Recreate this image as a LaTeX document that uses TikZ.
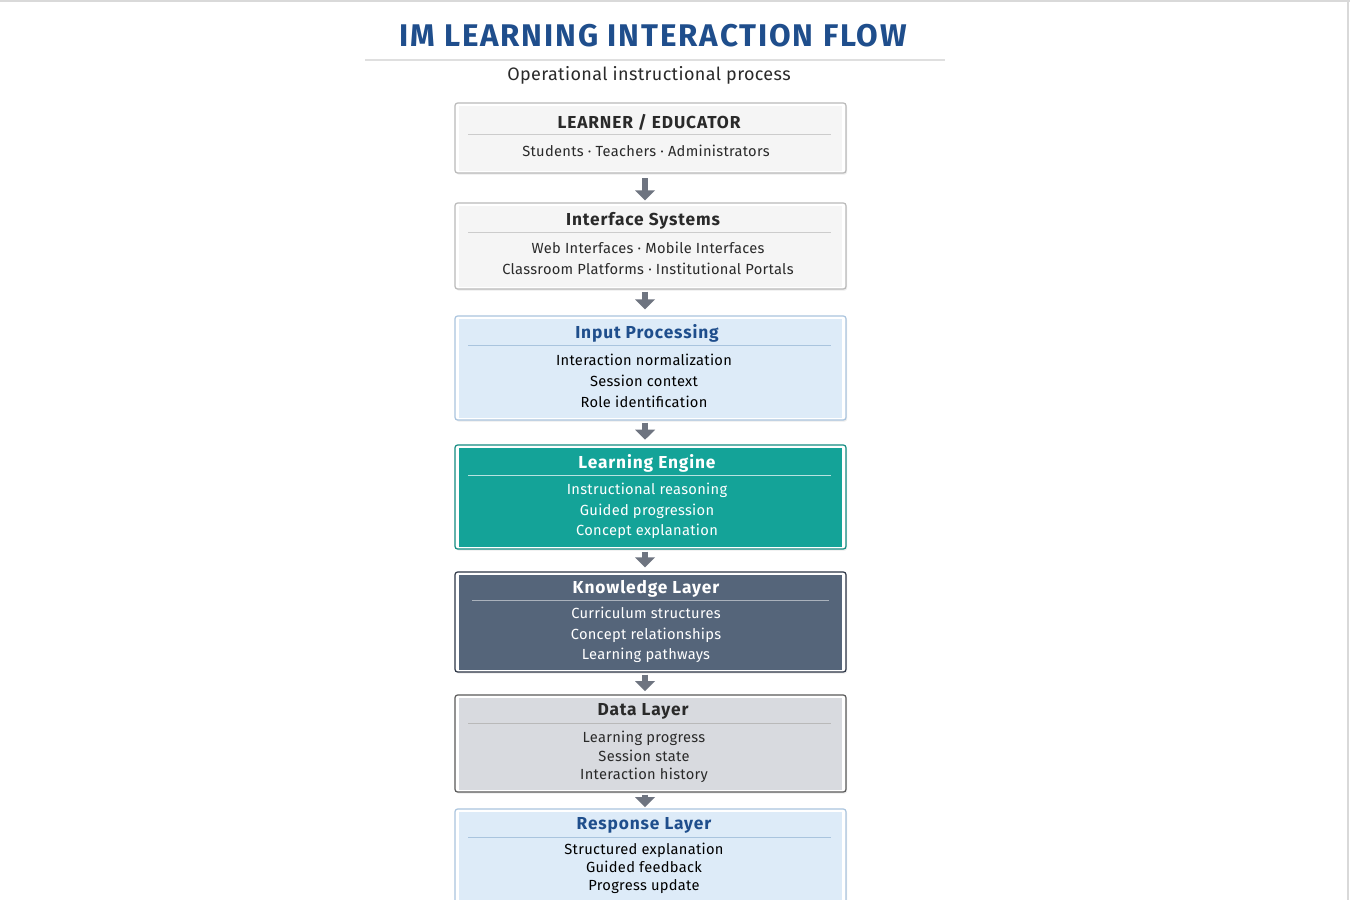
\documentclass[tikz,border=0pt]{standalone}
\usepackage{fontspec}
\setmainfont{Fira Sans}
\usetikzlibrary{arrows.meta,shadows}
\definecolor{ttl}{HTML}{1F4E8C}
\definecolor{lb}{HTML}{DDEBF8}
\definecolor{lbb}{HTML}{A9C4DE}
\definecolor{teal}{HTML}{14A398}
\definecolor{slate}{HTML}{55657A}
\definecolor{slated}{HTML}{2B3444}
\definecolor{gry}{HTML}{D8DADF}
\definecolor{arr}{HTML}{6E7480}
\definecolor{txt}{HTML}{2A2A2A}
\begin{document}
\begin{tikzpicture}[x=0.75pt,y=-0.75pt,
  outer/.style={draw=#1,line width=0.9pt,rounded corners=2pt,fill=white,minimum width=293.25pt,drop shadow={opacity=0.15,shadow xshift=0.8pt,shadow yshift=-1.2pt}},
  inner/.style={fill=#1,minimum width=287.25pt,inner sep=0pt},
  head/.style={font=\fontsize{13}{14}\selectfont\bfseries\addfontfeatures{LetterSpace=5},text=#1},
  body/.style={font=\fontsize{11}{15.5}\selectfont\addfontfeatures{LetterSpace=2},text=#1,align=center},
  sep/.style={draw=#1,line width=0.5pt},
  flow/.style={draw=arr,line width=5pt,-{Triangle[length=7.5pt,width=14.5pt]}}]
\useasboundingbox (0,0) rectangle (1350,900);
\fill[white] (0,0) rectangle (1350,900);
\draw[gray!30,line width=1pt] (0,1) -- (1350,1);
\draw[gray!30,line width=1pt] (1348,0) -- (1348,900);
\node[font=\fontsize{23.5}{26}\selectfont\bfseries\addfontfeatures{LetterSpace=6},text=ttl] (title) at (653,36) {IM LEARNING INTERACTION FLOW};
\draw[gray!25,line width=0.8pt] (365,60) -- (945,60);
\node[font=\fontsize{13.5}{16}\selectfont\addfontfeatures{LetterSpace=2},text=txt] (sub) at (649,75) {Operational instructional process};
\newcommand{\mybox}[5]{% name, ytop, ybot, border, fill
  \node[outer=#4,minimum height={(#3-#2)*0.75pt}] (#1) at (650.5,{(#2+#3)/2}) {};
  \node[inner=#5,minimum height={(#3-#2-5)*0.75pt}] (#1i) at (650.5,{(#2+#3)/2}) {};
}
\mybox{b1}{103}{173}{gray!55}{gray!8}
\mybox{b2}{203}{289}{gray!55}{gray!8}
\mybox{b3}{316}{420}{lbb}{lb}
\mybox{b4}{445}{549}{teal!85!black}{teal}
\mybox{b5}{572}{672}{slated}{slate}
\mybox{b6}{695}{792}{gray!70!black}{gry}
\mybox{b7}{809}{935}{lbb}{lb}
\node[head=txt] (t1) at (649,122) {LEARNER / EDUCATOR};
\draw[sep=gray!40] (468,134) -- (831,134);
\node[body=txt] (l1) at (646,151) {Students · Teachers · Administrators};
\node[head=txt] (t2) at (643,221) {Interface Systems};
\draw[sep=gray!40] (468,232) -- (831,232);
\node[body=txt] (l2) at (648,258.5) {Web Interfaces · Mobile Interfaces\\Classroom Platforms · Institutional Portals};
\node[head=ttl] (t3) at (647,333) {Input Processing};
\draw[sep=lbb] (468,345) -- (831,345);
\node[body=black] (l3) at (644,381) {Interaction normalization\\Session context\\Role identification};
\node[head=white] (t4) at (647,463) {Learning Engine};
\draw[sep=white!70!teal] (468,475) -- (831,475);
\node[body=white] (l4) at (647,511) {Instructional reasoning\\Guided progression\\Concept explanation};
\node[head=white] (t5) at (646,589) {Knowledge Layer};
\draw[sep=white!50!slate] (472,600) -- (829,600);
\node[body=white] (l5) at (646,635) {Curriculum structures\\Concept relationships\\Learning pathways};
\node[head=txt] (t6) at (643,711) {Data Layer};
\draw[sep=gray!55] (468,723) -- (831,723);
\node[body=txt,font=\fontsize{11}{14}\selectfont\addfontfeatures{LetterSpace=2}] (l6) at (644,757) {Learning progress\\Session state\\Interaction history};
\node[head=ttl] (t7) at (644,825) {Response Layer};
\draw[sep=lbb] (468,837) -- (831,837);
\node[body=black,font=\fontsize{11}{13.5}\selectfont\addfontfeatures{LetterSpace=2}] (l7) at (644,868) {Structured explanation\\Guided feedback\\Progress update};
\draw[flow] ([xshift=-4.1pt,yshift=-3.5pt]b1.south) -- ([xshift=-4.1pt,yshift=1.5pt]b2.north);
\draw[flow] ([xshift=-4.1pt,yshift=-1.5pt]b2.south) -- ([xshift=-4.1pt,yshift=4.5pt]b3.north);
\draw[flow] ([xshift=-4.1pt,yshift=-1.5pt]b3.south) -- ([xshift=-4.1pt,yshift=3.5pt]b4.north);
\draw[flow] ([xshift=-4.1pt,yshift=-1.5pt]b4.south) -- ([xshift=-4.1pt,yshift=3pt]b5.north);
\draw[flow] ([xshift=-4.1pt,yshift=-1.5pt]b5.south) -- ([xshift=-4.1pt,yshift=2.5pt]b6.north);
\draw[flow] ([xshift=-4.1pt,yshift=-1.5pt]b6.south) -- ([xshift=-4.1pt,yshift=1pt]b7.north);
\end{tikzpicture}
\end{document}
